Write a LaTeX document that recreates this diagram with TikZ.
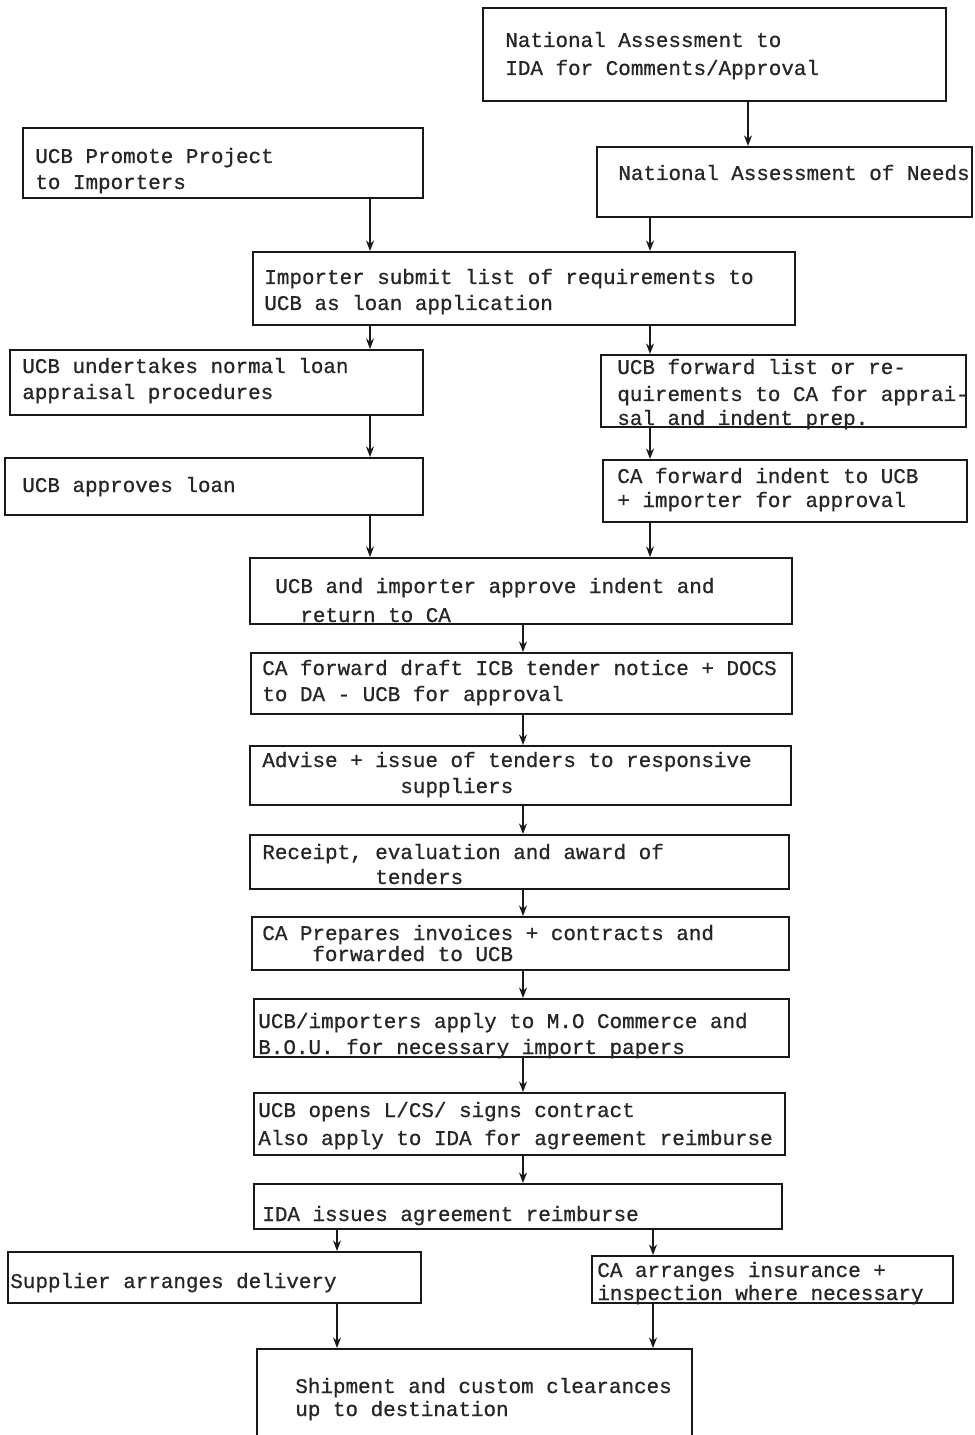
\documentclass[tikz,border=0pt]{standalone}
\usepackage{fontspec}
\setmainfont{Liberation Mono}
\newfontfamily\flowfont{Liberation Mono}[FakeBold=0.7]
\usetikzlibrary{arrows.meta}
\newcommand{\bx}[5]{\node[box, minimum width={(#4-#2)*0.02cm}, minimum height={(#5-#3)*0.02cm}] (#1) at ({(#2+#4)/2},{(#3+#5)/2}) {};}
\newcommand{\tx}[4]{\node[txt] (#1) at (#2,#3) {#4};}
\begin{document}
\begin{tikzpicture}[x=0.02cm,y=-0.02cm,
  box/.style={draw=black!90, line width=1.1pt, inner sep=0pt, rectangle},
  txt/.style={anchor=base west, inner sep=0pt, text=black!85, font=\flowfont\fontsize{11.9}{14}\selectfont},
  arr/.style={draw=black!90, line width=1pt, -{Stealth[length=6pt,width=4.5pt]}}]
\useasboundingbox (0,0) rectangle (974,1435);
\fill[white] (0,0) rectangle (974,1435);
% boxes
\bx{b1}{483}{8}{946}{101}
\bx{b2}{597}{147}{972}{217}
\bx{b3}{23}{128}{423}{198}
\bx{b4}{253}{252}{795}{325}
\bx{b5}{10}{350}{423}{415}
\bx{b6}{601}{355}{966}{427}
\bx{b7}{5}{458}{423}{515}
\bx{b8}{603}{460}{967}{522}
\bx{b9}{250}{558}{792}{624}
\bx{b10}{251}{653}{792}{714}
\bx{b11}{250}{746}{791}{805}
\bx{b12}{250}{835}{789}{889}
\bx{b13}{252}{917}{789}{970}
\bx{b14}{254}{999}{789}{1057}
\bx{b15}{254}{1093}{785}{1155}
\bx{b16}{254}{1184}{782}{1229}
\bx{b17}{8}{1252}{421}{1303}
\bx{b18}{592}{1256}{953}{1303}
\bx{b19}{257}{1349}{692}{1450}
% texts
\tx{t1a}{505}{47}{National Assessment to}
\tx{t1b}{505}{75}{IDA for Comments/Approval}
\tx{t2a}{618}{180}{National Assessment of Needs}
\tx{t3a}{35}{163}{UCB Promote Project}
\tx{t3b}{35}{189}{to Importers}
\tx{t4a}{264}{284}{Importer submit list of requirements to}
\tx{t4b}{264}{310}{UCB as loan application}
\tx{t5a}{22}{373}{UCB undertakes normal loan}
\tx{t5b}{22}{399}{appraisal procedures}
\tx{t6a}{617}{374}{UCB forward list or re-}
\tx{t6b}{617}{401}{quirements to CA for apprai-}
\tx{t6c}{617}{425}{sal and indent prep.}
\tx{t7a}{22}{492}{UCB approves loan}
\tx{t8a}{617}{483}{CA forward indent to UCB}
\tx{t8b}{617}{507}{+ importer for approval}
\tx{t9a}{275}{593}{UCB and importer approve indent and}
\tx{t9b}{300}{622}{return to CA}
\tx{t10a}{262}{675}{CA forward draft ICB tender notice + DOCS}
\tx{t10b}{262}{701}{to DA - UCB for approval}
\tx{t11a}{262}{767}{Advise + issue of tenders to responsive}
\tx{t11b}{400}{793}{suppliers}
\tx{t12a}{262}{859}{Receipt, evaluation and award of}
\tx{t12b}{375}{884}{tenders}
\tx{t13a}{262}{940}{CA Prepares invoices + contracts and}
\tx{t13b}{312}{961}{forwarded to UCB}
\tx{t14a}{258}{1028}{UCB/importers apply to M.O Commerce and}
\tx{t14b}{258}{1054}{B.O.U. for necessary import papers}
\tx{t15a}{258}{1117}{UCB opens L/CS/ signs contract}
\tx{t15b}{258}{1145}{Also apply to IDA for agreement reimburse}
\tx{t16a}{262}{1221}{IDA issues agreement reimburse}
\tx{t17a}{10}{1288}{Supplier arranges delivery}
\tx{t18a}{597}{1277}{CA arranges insurance +}
\tx{t18b}{597}{1300}{inspection where necessary}
\tx{t19a}{295}{1393}{Shipment and custom clearances}
\tx{t19b}{295}{1416}{up to destination}
% connector x positions
\coordinate (xA) at (748,0);
\coordinate (xL) at (370,0);
\coordinate (xR) at (650,0);
\coordinate (xM) at (523,0);
\coordinate (xL2) at (337,0);
\coordinate (xR2) at (653,0);
% connectors
\draw[arr] (b1.south -| xA) -- (b2.north -| xA);
\draw[arr] (b3.south -| xL) -- (b4.north -| xL);
\draw[arr] (b2.south -| xR) -- (b4.north -| xR);
\draw[arr] (b4.south -| xL) -- (b5.north -| xL);
\draw[arr] (b4.south -| xR) -- (b6.north -| xR);
\draw[arr] (b5.south -| xL) -- (b7.north -| xL);
\draw[arr] (b6.south -| xR) -- (b8.north -| xR);
\draw[arr] (b7.south -| xL) -- (b9.north -| xL);
\draw[arr] (b8.south -| xR) -- (b9.north -| xR);
\draw[arr] (b9.south -| xM) -- (b10.north -| xM);
\draw[arr] (b10.south -| xM) -- (b11.north -| xM);
\draw[arr] (b11.south -| xM) -- (b12.north -| xM);
\draw[arr] (b12.south -| xM) -- (b13.north -| xM);
\draw[arr] (b13.south -| xM) -- (b14.north -| xM);
\draw[arr] (b14.south -| xM) -- (b15.north -| xM);
\draw[arr] (b15.south -| xM) -- (b16.north -| xM);
\draw[arr] (b16.south -| xL2) -- (b17.north -| xL2);
\draw[arr] (b16.south -| xR2) -- (b18.north -| xR2);
\draw[arr] (b17.south -| xL2) -- (b19.north -| xL2);
\draw[arr] (b18.south -| xR2) -- (b19.north -| xR2);
\end{tikzpicture}
\end{document}
